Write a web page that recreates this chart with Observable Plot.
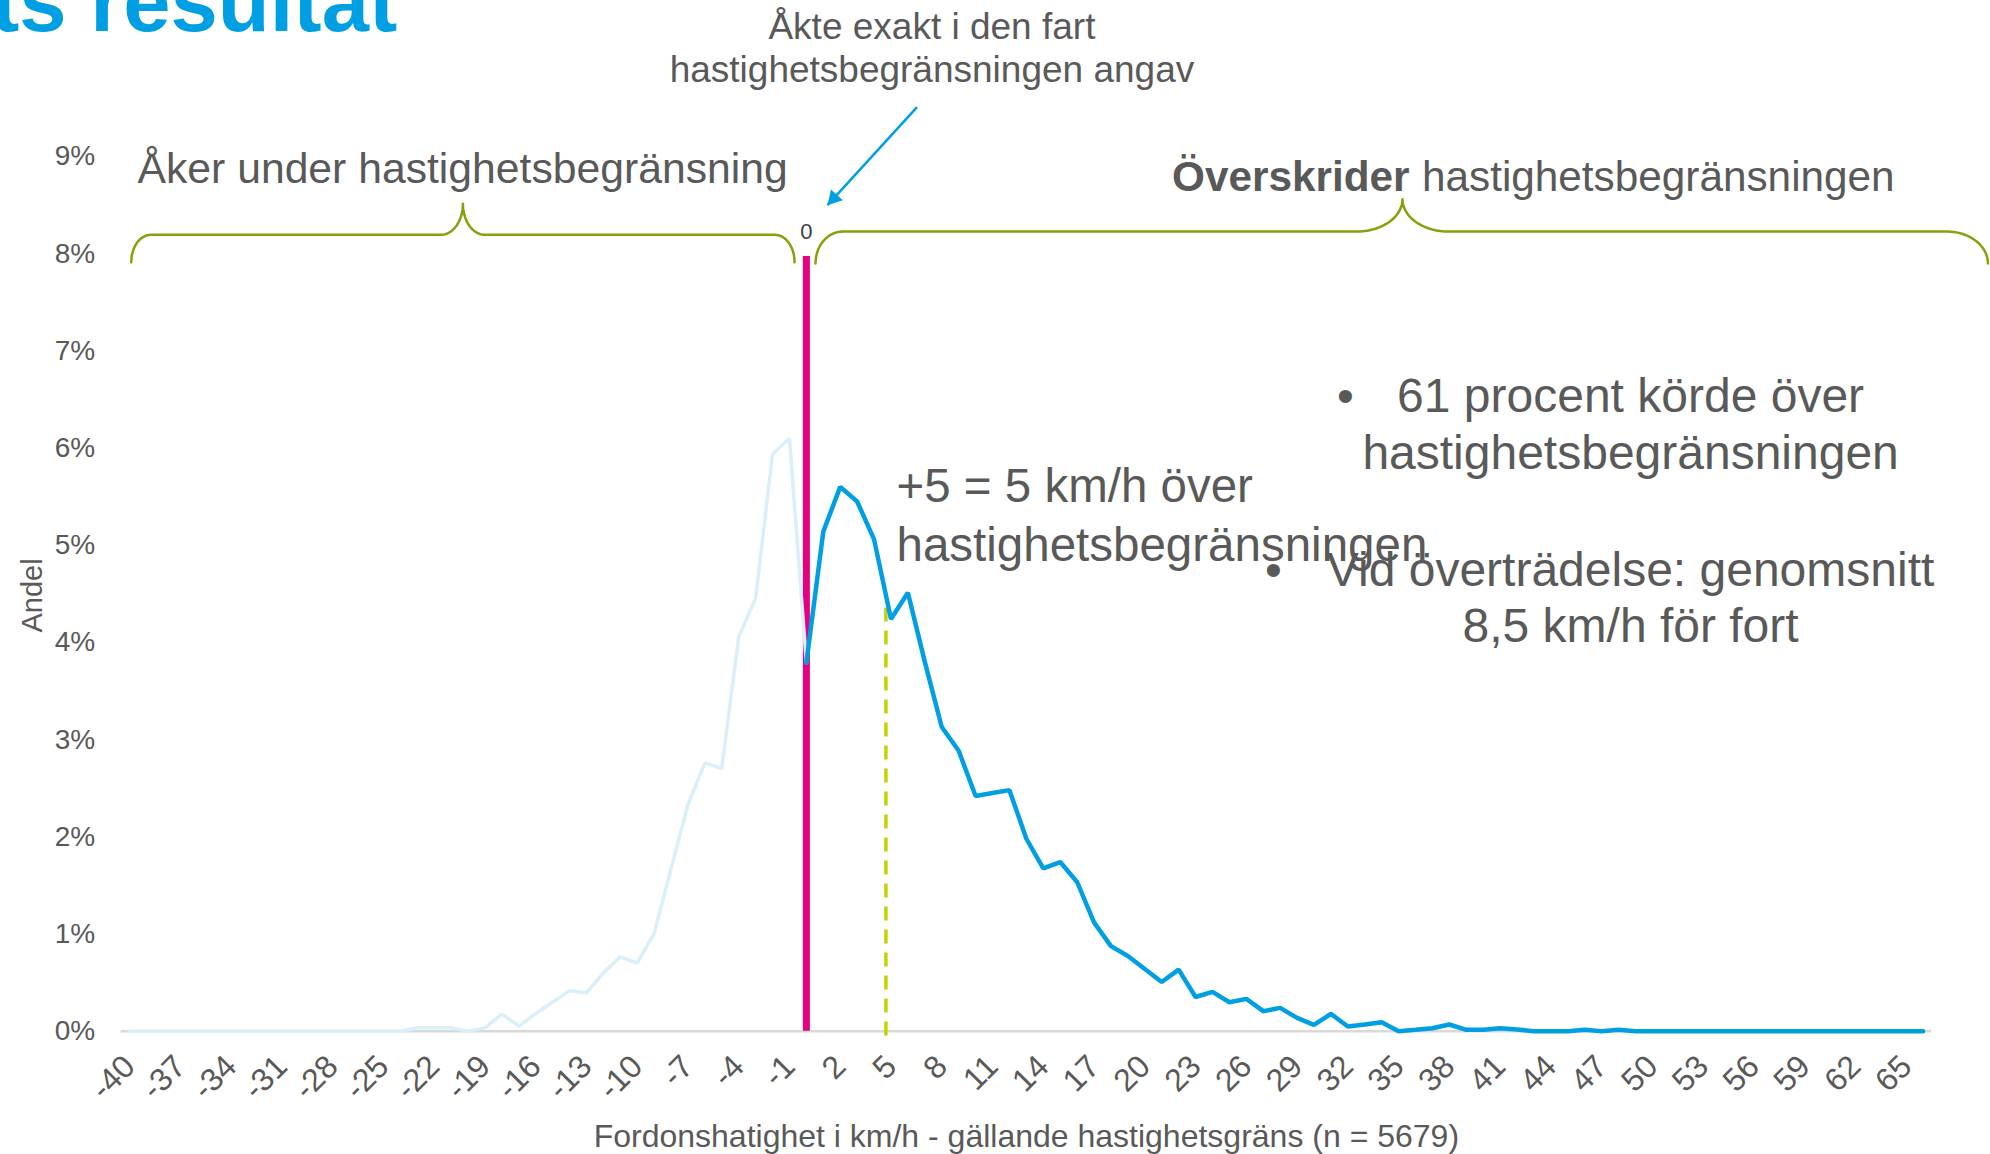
<!DOCTYPE html>
<html>
<head>
<meta charset="utf-8">
<script src="https://cdn.jsdelivr.net/npm/d3@7"></script>
<script src="https://cdn.jsdelivr.net/npm/@observablehq/plot@0.6"></script>
<style>
  html, body { margin: 0; padding: 0; background: #ffffff; overflow: hidden; }
  #chart { position: absolute; left: 0; top: 0; }
</style>
</head>
<body>
<div id="chart"></div>
<script>
// ---------- DATA ----------
// Speed relative to the limit (km/h), under / at the limit
const underSpeeds = [-40,-39,-38,-37,-36,-35,-34,-33,-32,-31,-30,-29,-28,-27,-26,-25,-24,-23,-22,-21,-20,-19,-18,-17,-16,-15,-14,-13,-12,-11,-10,-9,-8,-7,-6,-5,-4,-3,-2,-1,0];
// Share in percent
const underShares = [0,0,0,0,0,0,0,0,0,0,0,0,0,0,0,0,0,0.035,0.035,0.035,0,0.035,0.176,0.053,0.18,0.30,0.415,0.395,0.60,0.765,0.70,1.005,1.67,2.33,2.76,2.705,4.056,4.455,5.936,6.10,3.79];

// Speed relative to the limit (km/h), at / over the limit
const overSpeeds = [0,1,2,3,4,5,6,7,8,9,10,11,12,13,14,15,16,17,18,19,20,21,22,23,24,25,26,27,28,29,30,31,32,33,34,35,36,37,38,39,40,41,42,43,44,45,46,47,48,49,50,51,52,53,54,55,56,57,58,59,60,61,62,63,64,65,66];
const overShares = [3.79,5.14,5.60,5.45,5.06,4.24,4.51,3.80,3.13,2.885,2.42,2.45,2.48,1.98,1.675,1.74,1.535,1.12,0.875,0.773,0.64,0.506,0.633,0.352,0.404,0.298,0.333,0.206,0.240,0.137,0.065,0.178,0.048,0.069,0.093,0,0.014,0.03,0.069,0.014,0.014,0.03,0.018,0,0,0,0.014,0,0.014,0,0,0,0,0,0,0,0,0,0,0,0,0,0,0,0,0,0];

// Tick labels
const xTickValues = [-40,-37,-34,-31,-28,-25,-22,-19,-16,-13,-10,-7,-4,-1,2,5,8,11,14,17,20,23,26,29,32,35,38,41,44,47,50,53,56,59,62,65];
const yTickValues = [0,1,2,3,4,5,6,7,8,9];

// Texts
const titleText = "ts resultat";
const xAxisTitle = "Fordonshatighet i km/h - gällande hastighetsgräns (n = 5679)";
const yAxisTitle = "Andel";
const exactLines = ["Åkte exakt i den fart", "hastighetsbegränsningen angav"];
const underLabel = "Åker under hastighetsbegränsning";
const overLabelBold = "Överskrider";
const overLabelRest = "hastighetsbegränsningen";
const plusFiveLines = ["+5 = 5 km/h över", "hastighetsbegränsningen"];
const bulletLines = ["61 procent körde över", "hastighetsbegränsningen", "Vid överträdelse: genomsnitt", "8,5 km/h för fort"];
const limitValue = 0;       // exact speed limit
const plusFiveMarker = 4.7; // dashed marker near +5

// ---------- BUILD ----------
const under = underSpeeds.map((speed, i) => ({speed, share: underShares[i]}));
const over = overSpeeds.map((speed, i) => ({speed, share: overShares[i]}));

const blue = "#009fe3";
const lightBlue = "#daeffa";
const magenta = "#e6007e";
const olive = "#88a00c";
const lime = "#c3d200";
const gray = "#595959";
const font = "'Liberation Sans', Arial, Helvetica, sans-serif";

// curly braces (annotation shapes), in data units
const braces = [
  {id: "under", x0: -39.9, x1: -0.70, xTip: -20.3, yEnd: 7.912, yFlat: 8.193, yTip: 8.512, r0: 1.15, r1: 1.15, rTip: 1.3},
  {id: "over", x0: 0.54, x1: 69.83, xTip: 35.23, yEnd: 7.898, yFlat: 8.227, yTip: 8.56, r0: 1.6, r1: 2.42, rTip: 2.7}
];
function bracePoints(b) {
  const pts = [], n = 18, q = Math.PI / 2;
  for (let i = 0; i <= n; i++) { const t = i / n * q; pts.push({x: b.x0 + b.r0 * (1 - Math.cos(t)), y: b.yEnd + (b.yFlat - b.yEnd) * Math.sin(t)}); }
  for (let i = 0; i <= n; i++) { const t = i / n * q; pts.push({x: b.xTip - b.rTip + b.rTip * Math.sin(t), y: b.yFlat + (b.yTip - b.yFlat) * (1 - Math.cos(t))}); }
  for (let i = n; i >= 0; i--) { const t = i / n * q; pts.push({x: b.xTip + b.rTip - b.rTip * Math.sin(t), y: b.yFlat + (b.yTip - b.yFlat) * (1 - Math.cos(t))}); }
  for (let i = n; i >= 0; i--) { const t = i / n * q; pts.push({x: b.x1 - b.r1 * (1 - Math.cos(t)), y: b.yEnd + (b.yFlat - b.yEnd) * Math.sin(t)}); }
  return pts.map(p => ({...p, id: b.id}));
}
const braceData = braces.flatMap(bracePoints);

// pointer arrow (start -> tip) in data units
const pointer = [{x1: 6.54, y1: 9.506, x2: 1.247, y2: 8.498}];

const txt = (extra) => ({x: "x", y: "y", text: "t", fill: gray, lineAnchor: "bottom", fontFamily: font, ...extra});

const chart = Plot.plot({
  width: 1990,
  height: 1154,
  marginLeft: 120.6,
  marginRight: 58.9,
  marginTop: 155.9,
  marginBottom: 123.3,
  x: {type: "linear", domain: [-40.5, 66.5]},
  y: {type: "linear", domain: [0, 9]},
  style: {fontFamily: font, color: gray, background: "#ffffff", fontSize: "28px"},
  marks: [
    Plot.axisY({ticks: yTickValues, tickFormat: d => d + "%", tickSize: 0, tickPadding: 26, fontSize: 28, label: null, fill: gray}),
    Plot.axisX({ticks: xTickValues, tickFormat: d => String(d), tickRotate: -45, tickSize: 0, tickPadding: 30, fontSize: 32, label: null, fill: gray}),
    Plot.ruleY([0], {stroke: "#d9d9d9", strokeWidth: 2.5}),
    Plot.ruleX([limitValue], {y1: 0, y2: 7.97, stroke: magenta, strokeWidth: 7}),
    Plot.ruleX([plusFiveMarker], {y1: -0.05, y2: 4.41, stroke: lime, strokeWidth: 3.5, strokeDasharray: "14,9"}),
    Plot.line(under, {x: "speed", y: "share", stroke: lightBlue, strokeWidth: 3.5, strokeLinejoin: "miter"}),
    Plot.line(over, {x: "speed", y: "share", stroke: blue, strokeWidth: 4.5, strokeLinejoin: "miter"}),
    Plot.line(braceData, {x: "x", y: "y", z: "id", stroke: olive, strokeWidth: 2.5}),
    Plot.link(pointer, {x1: "x1", y1: "y1", x2: "x2", y2: "y2", stroke: blue, strokeWidth: 2.5}),
    Plot.dot(pointer, {x: "x2", y: "y2", symbol: "triangle", r: 6, fill: blue, stroke: "none", rotate: 222.3, dx: 6.3, dy: -6.9}),
    // zero label
    Plot.text([{x: 0, y: 8.152, t: "0"}], txt({fontSize: 22, fill: "#404040", textAnchor: "middle"})),
    // title
    Plot.text([{x: -48.19, y: 10.29, t: titleText}], txt({fontSize: 85, fontWeight: "bold", fill: blue, textAnchor: "start"})),
    // "Åkte exakt ..."
    Plot.text([{x: 7.42, y: 10.21, t: exactLines[0]}, {x: 7.42, y: 9.763, t: exactLines[1]}], txt({fontSize: 37, textAnchor: "middle"})),
    // brace labels
    Plot.text([{x: -39.53, y: 8.724, t: underLabel}], txt({fontSize: 42.7, textAnchor: "start"})),
    Plot.text([{x: 21.61, y: 8.649, t: overLabelBold}], txt({fontSize: 42.3, fontWeight: "bold", textAnchor: "start"})),
    Plot.text([{x: 36.38, y: 8.649, t: overLabelRest}], txt({fontSize: 42.3, textAnchor: "start"})),
    // +5 annotation
    Plot.text([{x: 5.325, y: 5.442, t: plusFiveLines[0]}, {x: 5.325, y: 4.836, t: plusFiveLines[1]}], txt({fontSize: 47.5, textAnchor: "start"})),
    // bullet block
    Plot.text([
      {x: 48.71, y: 6.371, t: bulletLines[0]},
      {x: 48.71, y: 5.784, t: bulletLines[1]},
      {x: 48.71, y: 4.580, t: bulletLines[2]},
      {x: 48.71, y: 4.001, t: bulletLines[3]}
    ], txt({fontSize: 48, textAnchor: "middle"})),
    Plot.text([{x: 31.86, y: 6.371, t: "•"}, {x: 27.6, y: 4.580, t: "•"}], txt({fontSize: 48, textAnchor: "middle"})),
    // axis titles
    Plot.text([{x: 13.0, y: -1.193, t: xAxisTitle}], txt({fontSize: 32, textAnchor: "middle"})),
    Plot.text([{x: -45.18, y: 4.483, t: yAxisTitle}], txt({fontSize: 29, textAnchor: "middle", rotate: -90}))
  ]
});
document.getElementById("chart").appendChild(chart);
</script>
</body>
</html>
